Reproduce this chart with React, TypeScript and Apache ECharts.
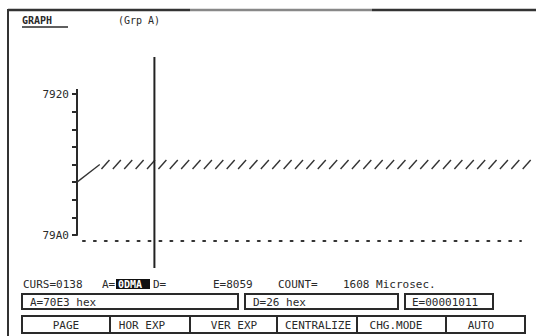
import React, { useEffect, useRef } from "react";
import * as echarts from "echarts";

// ---- data ----
const yMin = 0x7920;
const yMax = 0x79a0;
const yStep = 0x10;
const xMin = 0;
const xMax = 39;
const rampTimes = [0, 2];
const rampValues = [0x7970, 0x7960];
const hatchTimes = [2.5, 3.5, 4.5, 5.5, 6.5, 7.5, 8.5, 9.5, 10.5, 11.5, 12.5, 13.5, 14.5, 15.5, 16.5, 17.5, 18.5, 19.5, 20.5, 21.5, 22.5, 23.5, 24.5, 25.5, 26.5, 27.5, 28.5, 29.5, 30.5, 31.5, 32.5, 33.5, 34.5, 35.5, 36.5, 37.5, 38.5, 39.5];
const hatchValues = [0x7960, 0x7960, 0x7960, 0x7960, 0x7960, 0x7960, 0x7960, 0x7960, 0x7960, 0x7960, 0x7960, 0x7960, 0x7960, 0x7960, 0x7960, 0x7960, 0x7960, 0x7960, 0x7960, 0x7960, 0x7960, 0x7960, 0x7960, 0x7960, 0x7960, 0x7960, 0x7960, 0x7960, 0x7960, 0x7960, 0x7960, 0x7960, 0x7960, 0x7960, 0x7960, 0x7960, 0x7960, 0x7960];
const cursorTime = 6.8;

const titleText = "GRAPH";
const groupText = "(Grp A)";
const statusTexts = ["CURS=0138", "A=", "0DMA", "D=", "E=8059", "COUNT=", "1608 Microsec."];
const fieldTexts = ["A=70E3 hex", "D=26 hex", "E=00001011"];
const buttonLabels = ["PAGE", "HOR EXP", "VER EXP", "CENTRALIZE", "CHG.MODE", "AUTO"];

const FONT = "DejaVu Sans Mono";
const INK = "#2a2a2a";

export default function App() {
  const ref = useRef<HTMLDivElement>(null);
  useEffect(() => {
    if (!ref.current) return;
    const chart = echarts.init(ref.current, null, { renderer: "svg" });

    const txt = (text: string, x: number, y: number, extra: any = {}) => ({
      type: "text",
      x,
      y,
      style: {
        text,
        fill: INK,
        font: `11px "${FONT}"`,
        textVerticalAlign: "middle",
        ...extra,
      },
    });
    const box = (x: number, y: number, w: number, h: number) => ({
      type: "rect",
      shape: { x, y, width: w, height: h },
      style: { fill: "none", stroke: INK, lineWidth: 2 },
    });

    const buttonEdges = [22, 110, 190, 277, 357, 446, 525];
    const buttonCenters = [66, 142, 234, 318, 396, 481];

    const graphic: any[] = [
      // frame
      { type: "line", shape: { x1: 8, y1: 10, x2: 190, y2: 10 }, style: { stroke: "#333", lineWidth: 2.5 } },
      { type: "line", shape: { x1: 190, y1: 10, x2: 372, y2: 10 }, style: { stroke: "#888", lineWidth: 2.5 } },
      { type: "line", shape: { x1: 372, y1: 10, x2: 536, y2: 10 }, style: { stroke: "#333", lineWidth: 2.5 } },
      { type: "line", shape: { x1: 8, y1: 9, x2: 8, y2: 336 }, style: { stroke: "#333", lineWidth: 2 } },
      // title
      txt(titleText, 22, 20, { font: `bold 10px "${FONT}"` }),
      { type: "line", shape: { x1: 22, y1: 27, x2: 68, y2: 27 }, style: { stroke: INK, lineWidth: 1.5 } },
      txt(groupText, 118, 20, { font: `10px "${FONT}"` }),
      // y-axis top extension
      { type: "line", shape: { x1: 77, y1: 89, x2: 77, y2: 94 }, style: { stroke: INK, lineWidth: 2 } },
      // status line
      txt(statusTexts[0], 23, 284),
      txt(statusTexts[1], 102, 284),
      { type: "rect", shape: { x: 116, y: 279, width: 34, height: 10 }, style: { fill: "#111" } },
      txt(statusTexts[2], 118, 284, { fill: "#fff", font: `bold 10px "${FONT}"` }),
      txt(statusTexts[3], 153, 284),
      txt(statusTexts[4], 213, 284),
      txt(statusTexts[5], 278, 284),
      txt(statusTexts[6], 343, 284),
      // field boxes
      box(22, 294, 216, 15),
      box(245, 294, 153, 15),
      box(405, 294, 88, 15),
      txt(fieldTexts[0], 30, 302),
      txt(fieldTexts[1], 253, 302),
      txt(fieldTexts[2], 412, 302),
    ];
    for (let i = 0; i < buttonLabels.length; i++) {
      graphic.push(box(buttonEdges[i], 316, buttonEdges[i + 1] - buttonEdges[i], 17));
      graphic.push(
        txt(buttonLabels[i], buttonCenters[i], 325, { textAlign: "center" })
      );
    }

    chart.setOption({
      animation: false,
      backgroundColor: "#fff",
      grid: { left: 77, top: 94, width: 444, height: 141 },
      xAxis: {
        type: "value",
        min: xMin,
        max: xMax,
        offset: 6,
        axisLine: {
          show: true,
          lineStyle: { color: "#333", width: 2, type: [2, 8.93], dashOffset: 4.93 },
        },
        axisTick: { show: false },
        axisLabel: { show: false },
        splitLine: { show: false },
      },
      yAxis: {
        type: "value",
        inverse: true,
        min: yMin,
        max: yMax,
        interval: yStep,
        axisLine: { show: true, lineStyle: { color: INK, width: 2 } },
        axisTick: { show: true, length: 5, lineStyle: { color: INK, width: 2 } },
        splitLine: { show: false },
        axisLabel: {
          margin: 8,
          color: INK,
          fontFamily: FONT,
          fontSize: 11,
          formatter: (v: number) =>
            v === yMin || v === yMax ? v.toString(16).toUpperCase() : "",
        },
      },
      graphic,
      series: [
        {
          type: "line",
          data: rampTimes.map((t, i) => [t, rampValues[i]]),
          showSymbol: false,
          lineStyle: { color: "#333", width: 1.3 },
          clip: false,
        },
        {
          type: "custom",
          clip: false,
          data: hatchTimes.map((t, i) => [t, hatchValues[i]]),
          renderItem: (params: any, api: any) => {
            const p = api.coord([api.value(0), api.value(1)]);
            return {
              type: "line",
              shape: { x1: p[0] - 4, y1: p[1] + 4.5, x2: p[0] + 4, y2: p[1] - 4.5 },
              style: { stroke: "#333", lineWidth: 1.4 },
            };
          },
        },
        {
          type: "custom",
          clip: false,
          data: [[cursorTime, yMin]],
          renderItem: (params: any, api: any) => {
            const top = api.coord([api.value(0), yMin]);
            const bot = api.coord([api.value(0), yMax]);
            return {
              type: "line",
              shape: { x1: top[0], y1: top[1] - 37, x2: bot[0], y2: bot[1] + 33 },
              style: { stroke: "#222", lineWidth: 2 },
            };
          },
        },
      ],
    });
    return () => chart.dispose();
  }, []);
  return (
    <div
      ref={ref}
      style={{ position: "absolute", left: 0, top: 0, width: 536, height: 336 }}
    />
  );
}
